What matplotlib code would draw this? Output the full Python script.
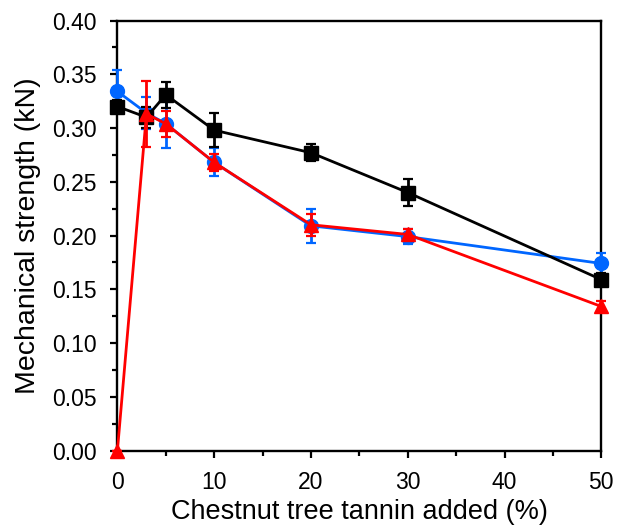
import matplotlib
matplotlib.use('Agg')
import matplotlib.pyplot as plt
from matplotlib.ticker import MultipleLocator

plt.rcParams['font.family'] = ['Liberation Sans', 'DejaVu Sans']

# tannin content (%)
tannin = [0, 3, 5, 10, 20, 30, 50]

# black squares
black_vals = [0.320, 0.310, 0.331, 0.298, 0.277, 0.240, 0.159]
black_err = [0.006, 0.010, 0.012, 0.016, 0.008, 0.013, 0.006]

# blue circles
blue_vals = [0.334, 0.314, 0.304, 0.268, 0.209, 0.199, 0.174]
blue_err = [0.020, 0.015, 0.023, 0.013, 0.016, 0.007, 0.010]

# red triangles
red_vals = [0.000, 0.313, 0.304, 0.268, 0.210, 0.201, 0.134]
red_err = [0.000, 0.031, 0.012, 0.008, 0.010, 0.005, 0.005]

fig = plt.figure(figsize=(6.18, 5.26), dpi=100)
ax = fig.add_axes([0.190, 0.1435, 0.783, 0.8175])

common = dict(linewidth=2.0, elinewidth=2.0, capsize=3.5, capthick=1.6, clip_on=False)

ax.errorbar(tannin, blue_vals, yerr=blue_err, color='#0066FF', marker='o',
            markersize=10, zorder=3, **common)
ax.errorbar(tannin, black_vals, yerr=black_err, color='black', marker='s',
            markersize=10, zorder=4, **common)
ax.errorbar(tannin, red_vals, yerr=red_err, color='#FF0000', marker='^',
            markersize=10, zorder=5, **common)

ax.set_xlim(0, 50)
ax.set_ylim(0, 0.40)
ax.xaxis.set_major_locator(MultipleLocator(10))
ax.xaxis.set_minor_locator(MultipleLocator(5))
ax.yaxis.set_major_locator(MultipleLocator(0.05))
ax.yaxis.set_minor_locator(MultipleLocator(0.025))
ax.yaxis.set_major_formatter(plt.FormatStrFormatter('%.2f'))

for s in ax.spines.values():
    s.set_linewidth(1.7)

ax.tick_params(which='major', direction='out', length=5, width=1.6,
               labelsize=16.5, pad=10)
ax.tick_params(which='minor', direction='out', length=3.5, width=1.6)
ax.tick_params(axis='y', which='major', pad=10)

ax.set_xlabel('Chestnut tree tannin added (%)', fontsize=19.5, labelpad=3)
ax.set_ylabel('Mechanical strength (kN)', fontsize=20.5, labelpad=8)

fig.savefig('out.png', dpi=100)
